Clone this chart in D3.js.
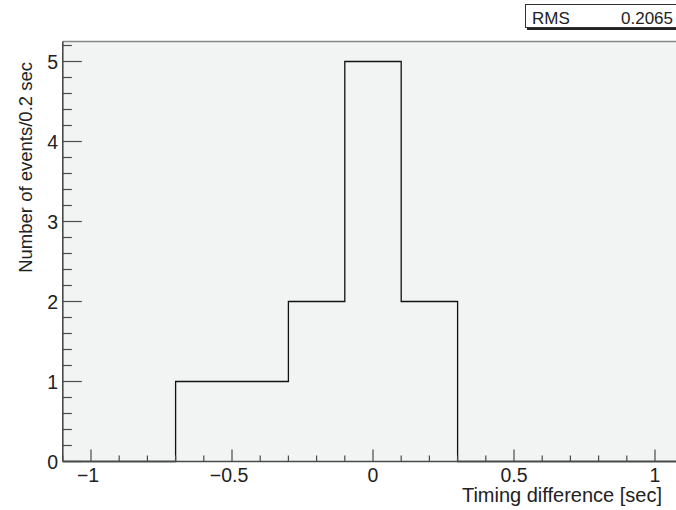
<!DOCTYPE html>
<html>
<head>
<meta charset="utf-8">
<script src="https://cdn.jsdelivr.net/npm/d3@7"></script>
<style>
  html, body { margin: 0; padding: 0; background: #fff; }
  svg { display: block; font-family: "Liberation Sans", Arial, Helvetica, sans-serif; }
</style>
</head>
<body>
<svg id="chart" width="676" height="510"></svg>
<script>
// Histogram of timing differences, 0.2 s bins from -1.1 to 1.1
const binLow = -1.1;
const binWidth = 0.2;
const counts = [0, 0, 1, 1, 2, 5, 2, 0, 0, 0, 0];
const xTicks = [-1, -0.5, 0, 0.5, 1];
const yTicks = [0, 1, 2, 3, 4, 5];
const statsLabel = "RMS";
const statsValue = "0.2065";

const svg = d3.select("#chart");

const x = d3.scaleLinear().domain([-1.1, 1.1]).range([62.8, 683.2]);
const y = d3.scaleLinear().domain([0, 5.25]).range([461.5, 41.5]);

const axisColor = "#4a4a4a";

// plot frame background
svg.append("rect")
  .attr("x", x(-1.1)).attr("y", y(5.25))
  .attr("width", x(1.1) - x(-1.1)).attr("height", y(0) - y(5.25))
  .attr("fill", "#f2f3f3");

// top frame line
svg.append("line")
  .attr("x1", x(-1.1)).attr("x2", x(1.1))
  .attr("y1", y(5.25)).attr("y2", y(5.25))
  .attr("stroke", "#888").attr("stroke-width", 1.5);

// histogram outline (step line)
const pts = [];
pts.push([x(binLow), y(0)]);
counts.forEach((c, i) => {
  const lo = binLow + i * binWidth, hi = lo + binWidth;
  pts.push([x(lo), y(c)]);
  pts.push([x(hi), y(c)]);
});
pts.push([x(binLow + counts.length * binWidth), y(0)]);
svg.append("path")
  .attr("d", d3.line()(pts))
  .attr("fill", "none")
  .attr("stroke", "#111")
  .attr("stroke-width", 1.3);

// x axis: major ticks every 0.5, minor every 0.1
const xAxis = svg.append("g").attr("class", "x-axis");
xAxis.append("line")
  .attr("x1", x(-1.1)).attr("x2", x(1.1))
  .attr("y1", y(0)).attr("y2", y(0))
  .attr("stroke", axisColor).attr("stroke-width", 1.6);
const xMinor = d3.range(-11, 12).map(v => v / 10);
xAxis.selectAll("line.minor").data(xMinor).enter().append("line")
  .attr("class", "minor")
  .attr("x1", d => x(d)).attr("x2", d => x(d))
  .attr("y1", y(0)).attr("y2", d => y(0) - (xTicks.some(t => Math.abs(t - d) < 1e-9) ? 12 : 6))
  .attr("stroke", axisColor).attr("stroke-width", 1.2);
xAxis.selectAll("text").data(xTicks).enter().append("text")
  .attr("x", d => x(d) + (d < 0 ? -3 : 0))
  .attr("y", 481.5)
  .attr("text-anchor", "middle")
  .attr("font-size", 19.5)
  .attr("fill", "#222")
  .text(d => d3.format("")(d).replace("-", "\u2013"));

// y axis: major ticks every 1, minor every 0.2
const yAxis = svg.append("g").attr("class", "y-axis");
yAxis.append("line")
  .attr("x1", x(-1.1)).attr("x2", x(-1.1))
  .attr("y1", y(0)).attr("y2", y(5.25))
  .attr("stroke", axisColor).attr("stroke-width", 1.6);
const yMinor = d3.range(0, 27).map(v => v / 5);
yAxis.selectAll("line.minor").data(yMinor).enter().append("line")
  .attr("class", "minor")
  .attr("x1", x(-1.1))
  .attr("x2", d => x(-1.1) + (Math.abs(d - Math.round(d)) < 1e-9 ? 19 : 9))
  .attr("y1", d => y(d)).attr("y2", d => y(d))
  .attr("stroke", axisColor).attr("stroke-width", 1.2);
yAxis.selectAll("text").data(yTicks).enter().append("text")
  .attr("x", 58)
  .attr("y", d => y(d) + 7.5)
  .attr("text-anchor", "end")
  .attr("font-size", 19.5)
  .attr("fill", "#222")
  .text(d => d);

// axis titles
svg.append("text")
  .attr("x", 662).attr("y", 502)
  .attr("text-anchor", "end")
  .attr("font-size", 20)
  .attr("fill", "#222")
  .text("Timing difference [sec]");
svg.append("text")
  .attr("transform", "translate(32,62) rotate(-90)")
  .attr("text-anchor", "end")
  .attr("font-size", 18.5)
  .attr("fill", "#222")
  .text("Number of events/0.2 sec");

// statistics box
const box = svg.append("g").attr("class", "stats");
box.append("rect")
  .attr("x", 527).attr("y", 7)
  .attr("width", 160).attr("height", 23)
  .attr("fill", "#222");
box.append("rect")
  .attr("x", 525.5).attr("y", 4.5)
  .attr("width", 160).attr("height", 23)
  .attr("fill", "#fff")
  .attr("stroke", "#333").attr("stroke-width", 1);
box.append("text")
  .attr("x", 532).attr("y", 23.5)
  .attr("font-size", 17).attr("fill", "#222")
  .text(statsLabel);
box.append("text")
  .attr("x", 673).attr("y", 23.5)
  .attr("text-anchor", "end")
  .attr("font-size", 17).attr("fill", "#222")
  .text(statsValue);
</script>
</body>
</html>
